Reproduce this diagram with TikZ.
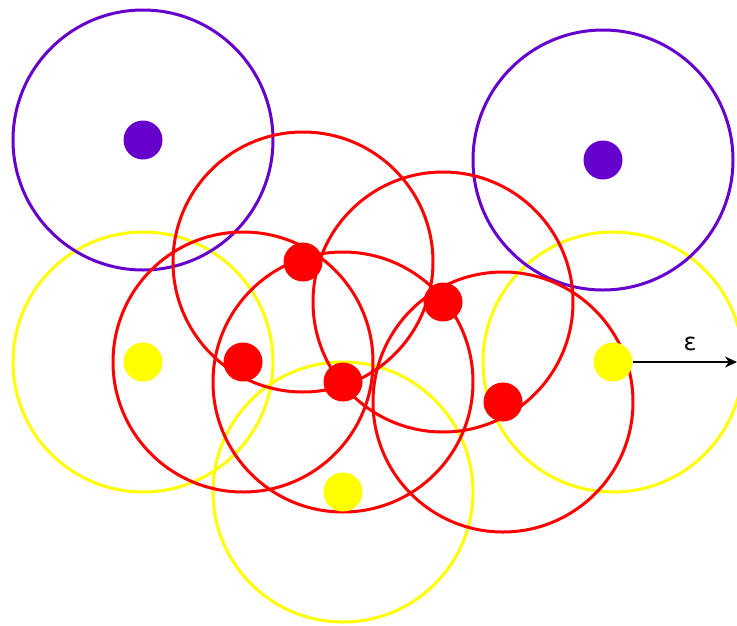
\documentclass[tikz,border=0pt]{standalone}
\usepackage{fontspec}
\newfontfamily\epsfont{DejaVu Sans}
\usetikzlibrary{arrows.meta}
\definecolor{dpurple}{HTML}{6600CC}
\definecolor{dred}{HTML}{FF0000}
\definecolor{dyellow}{HTML}{FFFF00}
\begin{document}
\begin{tikzpicture}[x=1pt,y=-1pt,
  ring/.style={draw=#1,line width=3pt,circle,minimum size=260pt,inner sep=0pt},
  pt/.style={fill=#1,circle,minimum size=39pt,inner sep=0pt}]
\useasboundingbox (0,0) rectangle (737,625);
% yellow rings
\node[ring=dyellow] (yr1) at (143,362) {};
\node[ring=dyellow] (yr2) at (343,492) {};
\node[ring=dyellow] (yr3) at (613,362) {};
% purple rings
\node[ring=dpurple] (pr1) at (143,140) {};
\node[ring=dpurple] (pr2) at (603,160) {};
% red rings
\node[ring=dred] (rr1) at (303,262) {};
\node[ring=dred] (rr2) at (443,302) {};
\node[ring=dred] (rr3) at (243,362) {};
\node[ring=dred] (rr4) at (343,382) {};
\node[ring=dred] (rr5) at (503,402) {};
% points
\node[pt=dpurple] (p1) at (143,140) {};
\node[pt=dpurple] (p2) at (603,160) {};
\node[pt=dyellow] (y1) at (143,362) {};
\node[pt=dyellow] (y2) at (343,492) {};
\node[pt=dyellow] (y3) at (613,362) {};
\node[pt=dred] (r1) at (303,262) {};
\node[pt=dred] (r2) at (443,302) {};
\node[pt=dred] (r3) at (243,362) {};
\node[pt=dred] (r4) at (343,382) {};
\node[pt=dred] (r5) at (503,402) {};
% epsilon arrow
\coordinate (aend) at (737,362);
\draw[line width=1.8pt,-{Stealth[length=12pt,width=11pt]}] (y3.east) -- (aend);
\node[font=\epsfont\fontsize{24}{24}\selectfont] (eps) at (690,344) {ε};
\end{tikzpicture}
\end{document}
